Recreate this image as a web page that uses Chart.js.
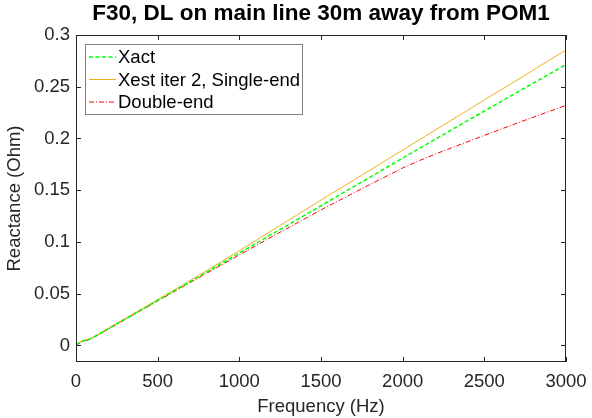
<!DOCTYPE html>
<html><head><meta charset="utf-8">
<script src="https://cdn.jsdelivr.net/npm/chart.js@4/dist/chart.umd.min.js"></script>
<style>html,body{margin:0;padding:0;background:#fff}canvas{display:block}</style>
</head><body>
<canvas id="c" width="592" height="418"></canvas>
<script>
const titleText = 'F30, DL on main line 30m away from POM1';
const xTitle = 'Frequency (Hz)';
const yTitle = 'Reactance (Ohm)';
const seriesNames = ['Xact', 'Xest iter 2, Single-end', 'Double-end'];
const frequency = [0,25,50,75,100,150,200,300,500,750,1000,1250,1500,1750,2000,2100,2250,2500,2750,3000];
const xact      = [0.0005,0.003,0.0048,0.0055,0.0072,0.0118,0.0163,0.0254,0.0435,0.0663,0.0892,0.1121,0.1350,0.1580,0.1810,0.1901,0.2038,0.2265,0.2490,0.2714];
const singleEnd = [0.001,0.0035,0.0050,0.0058,0.0076,0.0121,0.0168,0.0259,0.0443,0.0675,0.0915,0.1160,0.1405,0.1645,0.1888,0.1985,0.2130,0.2372,0.2613,0.2855];
const doubleEnd = [0.0005,0.0025,0.0045,0.0052,0.0070,0.0115,0.0160,0.0250,0.0430,0.0653,0.0875,0.1095,0.1310,0.1515,0.1715,0.1785,0.1880,0.2030,0.2177,0.2320];
const xTicks = [0,500,1000,1500,2000,2500,3000];
const yTicks = [0,0.05,0.1,0.15,0.2,0.25,0.3];

const FONT = "'Liberation Sans', Arial, sans-serif";
const AX = '#262626';
const FS = 18.5;
const styles = [
  {color:'#00ff00', width:1.5, dash:[4,2.5]},
  {color:'#edb120', width:1, dash:[]},
  {color:'#ff0000', width:1, dash:[5,2,1,2]}
];
const seriesData = [xact, singleEnd, doubleEnd];

const pts = arr => frequency.map((f,i)=>({x:f, y:arr[i]}));

const framePlugin = {
  id:'frame',
  afterDatasetsDraw(chart){
    const ctx = chart.ctx, a = chart.chartArea;
    const xs = chart.scales.x, ys = chart.scales.y;
    ctx.save();
    ctx.strokeStyle = AX; ctx.lineWidth = 1; ctx.setLineDash([]);
    ctx.strokeRect(Math.round(a.left)+0.5, Math.round(a.top)+0.5, Math.round(a.right-a.left)-1, Math.round(a.bottom-a.top)-1);
    const L = 5;
    ctx.beginPath();
    xTicks.forEach(v=>{
      const p = Math.round(xs.getPixelForValue(v))+0.5;
      ctx.moveTo(p, a.bottom); ctx.lineTo(p, a.bottom-L);
      ctx.moveTo(p, a.top); ctx.lineTo(p, a.top+L);
    });
    yTicks.forEach(v=>{
      const p = Math.round(ys.getPixelForValue(v))+0.5;
      ctx.moveTo(a.left, p); ctx.lineTo(a.left+L, p);
      ctx.moveTo(a.right, p); ctx.lineTo(a.right-L, p);
    });
    ctx.stroke();
    ctx.fillStyle = '#000';
    ctx.font = 'bold 22.5px ' + FONT;
    ctx.textAlign = 'center'; ctx.textBaseline = 'middle';
    ctx.fillText(titleText, (a.left+a.right)/2, 14);
    ctx.restore();
  },
  afterDraw(chart){
    const ctx = chart.ctx;
    ctx.save();
    const bx = 85.5, by = 44.5, bw = 217, bh = 70;
    ctx.fillStyle = '#fff';
    ctx.fillRect(bx, by, bw, bh);
    ctx.strokeStyle = '#808080'; ctx.lineWidth = 1;
    ctx.strokeRect(bx, by, bw, bh);
    const rows = [57, 79.5, 102];
    ctx.font = FS + 'px ' + FONT;
    ctx.textBaseline = 'middle'; ctx.textAlign = 'left';
    seriesNames.forEach((n,i)=>{
      const s = styles[i];
      ctx.strokeStyle = s.color; ctx.lineWidth = s.width; ctx.setLineDash(s.dash);
      ctx.beginPath(); ctx.moveTo(89, rows[i]); ctx.lineTo(116, rows[i]); ctx.stroke();
      ctx.setLineDash([]);
      ctx.fillStyle = '#000';
      ctx.fillText(n, 118, rows[i]+1);
    });
    ctx.restore();
  }
};

new Chart(document.getElementById('c'), {
  type:'line',
  data:{
    datasets: seriesData.map((arr,i)=>({
      label: seriesNames[i],
      data: pts(arr),
      borderColor: styles[i].color,
      borderWidth: styles[i].width,
      borderDash: styles[i].dash,
      pointRadius: 0,
      fill: false,
      tension: 0
    }))
  },
  options:{
    responsive:false,
    animation:false,
    devicePixelRatio:1,
    layout:{padding:{top:35, right:26, left:0, bottom:0}},
    plugins:{legend:{display:false}, title:{display:false}, tooltip:{enabled:false}},
    scales:{
      x:{
        type:'linear', min:0, max:3000,
        grid:{display:false, drawTicks:false},
        border:{display:false},
        afterBuildTicks: s => { s.ticks = xTicks.map(v=>({value:v})); },
        afterFit: s => { s.height = 56; s.paddingLeft = 0; s.paddingRight = 0; },
        ticks:{padding:9, color:AX, font:{family:FONT, size:FS}, maxRotation:0, callback:v=>String(v)},
        title:{display:true, text:xTitle, color:AX, font:{family:FONT, size:FS}, padding:{top:0,bottom:0}}
      },
      y:{
        type:'linear', min:-0.016, max:0.3,
        grid:{display:false, drawTicks:false},
        border:{display:false},
        afterBuildTicks: s => { s.ticks = yTicks.map(v=>({value:v})); },
        afterFit: s => { s.width = 76; s.paddingTop = 0; s.paddingBottom = 0; },
        ticks:{padding:6, color:AX, font:{family:FONT, size:FS}, callback:v=>String(Math.round(v*100)/100)},
        title:{display:true, text:yTitle, color:AX, font:{family:FONT, size:FS}, padding:{top:4,bottom:0}}
      }
    }
  },
  plugins:[framePlugin]
});
</script>
</body></html>
